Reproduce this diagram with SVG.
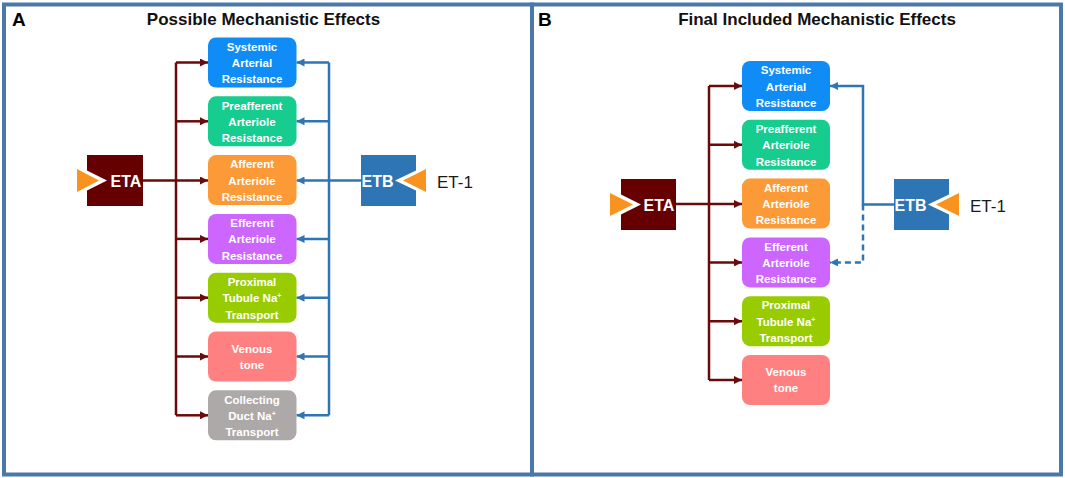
<svg xmlns="http://www.w3.org/2000/svg" width="1065" height="478" viewBox="0 0 1065 478">
<style>
.panel{fill:#fff;stroke:#4a78a8;stroke-width:4}
.lbl{font-family:"Liberation Sans",Arial,sans-serif;font-weight:bold;font-size:19px;fill:#000}
.title{font-family:"Liberation Sans",Arial,sans-serif;font-weight:bold;font-size:17px;fill:#111;text-anchor:middle}
.bt{font-family:"Liberation Sans",Arial,sans-serif;font-weight:bold;font-size:11.5px;fill:#fff;text-anchor:middle}
.sup{font-size:7px}
.rt{font-family:"Liberation Sans",Arial,sans-serif;font-weight:bold;font-size:16px;fill:#fff;text-anchor:middle}
.et1{font-family:"Liberation Sans",Arial,sans-serif;font-size:17px;fill:#1a1a1a}
.red{fill:none;stroke:#6b0a0a;stroke-width:2.5}
.blue{fill:none;stroke:#2e75b6;stroke-width:2.5}
.dash{stroke-dasharray:6,4}
.ora{fill:#f7931e}
</style>
<defs>
<marker id="ar" markerUnits="userSpaceOnUse" markerWidth="9" markerHeight="8" refX="8" refY="4" orient="auto"><path d="M0,0 L8,4 L0,8 z" fill="#6b0a0a"/></marker>
<marker id="ab" markerUnits="userSpaceOnUse" markerWidth="9" markerHeight="8" refX="8" refY="4" orient="auto"><path d="M0,0 L8,4 L0,8 z" fill="#2e75b6"/></marker>
</defs>
<g id="panelA">
<rect class="panel" x="4" y="4.5" width="528" height="470"/>
<text class="lbl" x="12" y="26">A</text>
<text class="title" x="263.5" y="25">Possible Mechanistic Effects</text>
</g>
<g id="panelB">
<rect class="panel" x="532" y="4.5" width="529" height="470"/>
<text class="lbl" x="538" y="26">B</text>
<text class="title" x="817" y="25">Final Included Mechanistic Effects</text>
</g>
<g id="connectors">
<path class="red" d="M176,62.5 V415.3"/>
<path class="red" d="M143,180.5 H208" marker-end="url(#ar)"/>
<path class="red" d="M176,62.5 H208" marker-end="url(#ar)"/>
<path class="red" d="M176,121.3 H208" marker-end="url(#ar)"/>
<path class="red" d="M176,238.9 H208" marker-end="url(#ar)"/>
<path class="red" d="M176,297.7 H208" marker-end="url(#ar)"/>
<path class="red" d="M176,356.5 H208" marker-end="url(#ar)"/>
<path class="red" d="M176,415.3 H208" marker-end="url(#ar)"/>
<path class="blue" d="M329,62.5 V415.3"/>
<path class="blue" d="M361,180.5 H296.5" marker-end="url(#ab)"/>
<path class="blue" d="M329,62.5 H296.5" marker-end="url(#ab)"/>
<path class="blue" d="M329,121.3 H296.5" marker-end="url(#ab)"/>
<path class="blue" d="M329,238.9 H296.5" marker-end="url(#ab)"/>
<path class="blue" d="M329,297.7 H296.5" marker-end="url(#ab)"/>
<path class="blue" d="M329,356.5 H296.5" marker-end="url(#ab)"/>
<path class="blue" d="M329,415.3 H296.5" marker-end="url(#ab)"/>
<path class="red" d="M709,86 V380"/>
<path class="red" d="M676,204 H742" marker-end="url(#ar)"/>
<path class="red" d="M709,86 H742" marker-end="url(#ar)"/>
<path class="red" d="M709,144.8 H742" marker-end="url(#ar)"/>
<path class="red" d="M709,262.4 H742" marker-end="url(#ar)"/>
<path class="red" d="M709,321.2 H742" marker-end="url(#ar)"/>
<path class="red" d="M709,380 H742" marker-end="url(#ar)"/>
<path class="blue" d="M894,204.5 H863 V86 H830" marker-end="url(#ab)"/>
<path class="blue dash" d="M863,204.5 V262.4 H830" marker-end="url(#ab)"/>
</g>
<g id="A-systemic"><rect x="208" y="37.5" width="88.5" height="50" rx="8" fill="#0f8cf5"/>
<text class="bt" x="252" y="50.7">Systemic</text><text class="bt" x="252" y="67">Arterial</text><text class="bt" x="252" y="83.3">Resistance</text></g>
<g id="A-preafferent"><rect x="208" y="96.3" width="88.5" height="50" rx="8" fill="#17cc8f"/>
<text class="bt" x="252" y="109.5">Preafferent</text><text class="bt" x="252" y="125.8">Arteriole</text><text class="bt" x="252" y="142.1">Resistance</text></g>
<g id="A-afferent"><rect x="208" y="155.1" width="88.5" height="50" rx="8" fill="#fd9a38"/>
<text class="bt" x="252" y="168.3">Afferent</text><text class="bt" x="252" y="184.6">Arteriole</text><text class="bt" x="252" y="200.9">Resistance</text></g>
<g id="A-efferent"><rect x="208" y="213.9" width="88.5" height="50" rx="8" fill="#cc66ff"/>
<text class="bt" x="252" y="227.1">Efferent</text><text class="bt" x="252" y="243.4">Arteriole</text><text class="bt" x="252" y="259.7">Resistance</text></g>
<g id="A-proximal"><rect x="208" y="272.7" width="88.5" height="50" rx="8" fill="#99cc00"/>
<text class="bt" x="252" y="285.9">Proximal</text><text class="bt" x="252" y="302.2">Tubule Na<tspan class="sup" dy="-4">+</tspan></text><text class="bt" x="252" y="318.5">Transport</text></g>
<g id="A-venous"><rect x="208" y="331.5" width="88.5" height="50" rx="8" fill="#ff8080"/>
<text class="bt" x="252" y="352.8">Venous</text><text class="bt" x="252" y="368.8">tone</text></g>
<g id="A-collecting"><rect x="208" y="390.3" width="88.5" height="50" rx="8" fill="#ada9a9"/>
<text class="bt" x="252" y="403.5">Collecting</text><text class="bt" x="252" y="419.8">Duct Na<tspan class="sup" dy="-4">+</tspan></text><text class="bt" x="252" y="436.1">Transport</text></g>
<g id="A-ETA"><path d="M87,155 H143 V206 H87 V190.5 L107,180.5 L87,170.5 Z" fill="#660000"/>
<path class="ora" d="M77,169 L99,180.5 L77,192 Z"/>
<text class="rt" x="126" y="186.5">ETA</text></g>
<g id="A-ETB"><path d="M361,155 H416 V170.5 L395,180.5 L416,190.5 V206 H361 Z" fill="#2e75b6"/>
<path class="ora" d="M426,169 L403,180.5 L426,192 Z"/>
<text class="rt" x="377.5" y="186.5">ETB</text></g>
<g id="A-ET1"><text class="et1" x="437" y="188.3">ET-1</text></g>
<g id="B-systemic"><rect x="742" y="61" width="88" height="50" rx="8" fill="#0f8cf5"/>
<text class="bt" x="786" y="74.2">Systemic</text><text class="bt" x="786" y="90.5">Arterial</text><text class="bt" x="786" y="106.8">Resistance</text></g>
<g id="B-preafferent"><rect x="742" y="119.8" width="88" height="50" rx="8" fill="#17cc8f"/>
<text class="bt" x="786" y="133">Preafferent</text><text class="bt" x="786" y="149.3">Arteriole</text><text class="bt" x="786" y="165.6">Resistance</text></g>
<g id="B-afferent"><rect x="742" y="178.6" width="88" height="50" rx="8" fill="#fd9a38"/>
<text class="bt" x="786" y="191.8">Afferent</text><text class="bt" x="786" y="208.1">Arteriole</text><text class="bt" x="786" y="224.4">Resistance</text></g>
<g id="B-efferent"><rect x="742" y="237.4" width="88" height="50" rx="8" fill="#cc66ff"/>
<text class="bt" x="786" y="250.6">Efferent</text><text class="bt" x="786" y="266.9">Arteriole</text><text class="bt" x="786" y="283.2">Resistance</text></g>
<g id="B-proximal"><rect x="742" y="296.2" width="88" height="50" rx="8" fill="#99cc00"/>
<text class="bt" x="786" y="309.4">Proximal</text><text class="bt" x="786" y="325.7">Tubule Na<tspan class="sup" dy="-4">+</tspan></text><text class="bt" x="786" y="342">Transport</text></g>
<g id="B-venous"><rect x="742" y="355" width="88" height="50" rx="8" fill="#ff8080"/>
<text class="bt" x="786" y="376.3">Venous</text><text class="bt" x="786" y="392.3">tone</text></g>
<g id="B-ETA"><path d="M621,179 H676 V230 H621 V214.5 L641,204.5 L621,194.5 Z" fill="#660000"/>
<path class="ora" d="M610,193 L633,204.5 L610,216 Z"/>
<text class="rt" x="659" y="210.5">ETA</text></g>
<g id="B-ETB"><path d="M894,179 H949 V194.5 L928,204.5 L949,214.5 V230 H894 Z" fill="#2e75b6"/>
<path class="ora" d="M959,193 L936,204.5 L959,216 Z"/>
<text class="rt" x="910.5" y="210.5">ETB</text></g>
<g id="B-ET1"><text class="et1" x="970" y="212">ET-1</text></g>
</svg>
